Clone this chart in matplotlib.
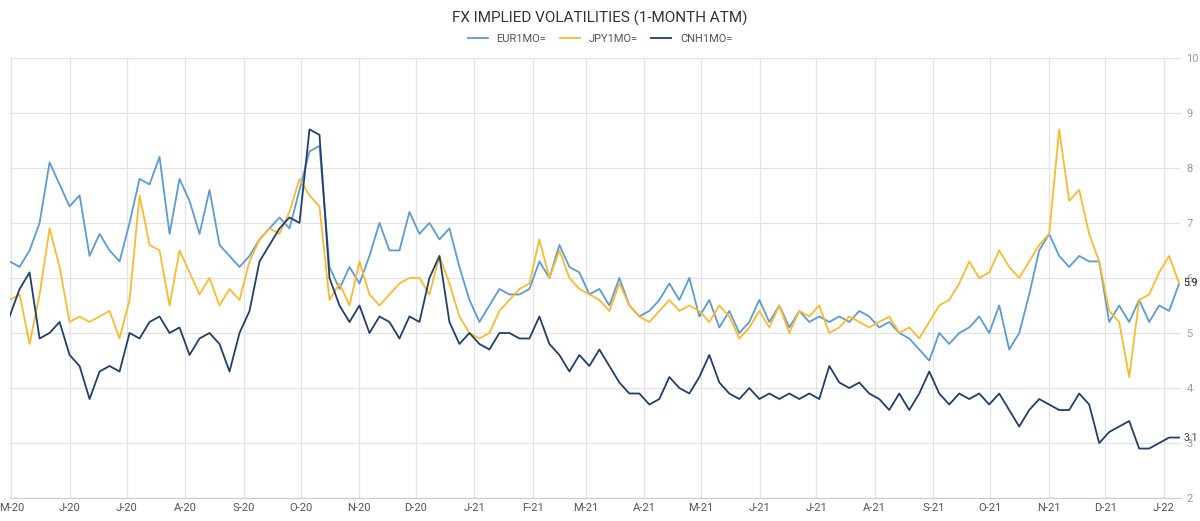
import matplotlib
matplotlib.use("Agg")
import matplotlib.pyplot as plt
import matplotlib.dates as mdates
import pandas as pd

plt.rcParams['font.family'] = ['Roboto', 'DejaVu Sans']

eur = [6.3,6.2,6.5,7.0,8.1,7.7,7.3,7.5,6.4,6.8,
       6.5,6.3,7.0,7.8,7.7,8.2,6.8,7.8,7.4,6.8,
       7.6,6.6,6.4,6.2,6.4,6.7,6.9,7.1,6.9,7.6,
       8.3,8.4,6.2,5.8,6.2,5.9,6.4,7.0,6.5,6.5,
       7.2,6.8,7.0,6.7,6.9,6.2,5.6,5.2,5.5,5.8,
       5.7,5.7,5.8,6.3,6.0,6.6,6.2,6.1,5.7,5.8,
       5.5,6.0,5.5,5.3,5.4,5.6,5.9,5.6,6.0,5.3,
       5.6,5.1,5.4,5.0,5.2,5.6,5.2,5.5,5.1,5.4,
       5.2,5.3,5.2,5.3,5.2,5.4,5.3,5.1,5.2,5.0,
       4.9,4.7,4.5,5.0,4.8,5.0,5.1,5.3,5.0,5.5,
       4.7,5.0,5.7,6.5,6.8,6.4,6.2,6.4,6.3,6.3,
       5.2,5.5,5.2,5.6,5.2,5.5,5.4,5.9]
jpy = [5.6,5.7,4.8,5.7,6.9,6.2,5.2,5.3,5.2,5.3,
       5.4,4.9,5.6,7.5,6.6,6.5,5.5,6.5,6.1,5.7,
       6.0,5.5,5.8,5.6,6.3,6.7,6.9,6.8,7.2,7.8,
       7.5,7.3,5.6,5.9,5.5,6.3,5.7,5.5,5.7,5.9,
       6.0,6.0,5.7,6.4,5.9,5.3,5.0,4.9,5.0,5.4,
       5.6,5.8,5.9,6.7,6.0,6.5,6.0,5.8,5.7,5.6,
       5.4,5.9,5.5,5.3,5.2,5.4,5.6,5.4,5.5,5.4,
       5.2,5.5,5.3,4.9,5.1,5.4,5.1,5.5,5.0,5.4,
       5.3,5.5,5.0,5.1,5.3,5.2,5.1,5.2,5.3,5.0,
       5.1,4.9,5.2,5.5,5.6,5.9,6.3,6.0,6.1,6.5,
       6.2,6.0,6.3,6.6,6.8,8.7,7.4,7.6,6.8,6.3,
       5.4,5.2,4.2,5.6,5.7,6.1,6.4,5.9]
cnh = [5.3,5.8,6.1,4.9,5.0,5.2,4.6,4.4,3.8,4.3,
       4.4,4.3,5.0,4.9,5.2,5.3,5.0,5.1,4.6,4.9,
       5.0,4.8,4.3,5.0,5.4,6.3,6.6,6.9,7.1,7.0,
       8.7,8.6,6.0,5.5,5.2,5.5,5.0,5.3,5.2,4.9,
       5.3,5.2,6.0,6.4,5.2,4.8,5.0,4.8,4.7,5.0,
       5.0,4.9,4.9,5.3,4.8,4.6,4.3,4.6,4.4,4.7,
       4.4,4.1,3.9,3.9,3.7,3.8,4.2,4.0,3.9,4.2,
       4.6,4.1,3.9,3.8,4.0,3.8,3.9,3.8,3.9,3.8,
       3.9,3.8,4.4,4.1,4.0,4.1,3.9,3.8,3.6,3.9,
       3.6,3.9,4.3,3.9,3.7,3.9,3.8,3.9,3.7,3.9,
       3.6,3.3,3.6,3.8,3.7,3.6,3.6,3.9,3.7,3.0,
       3.2,3.3,3.4,2.9,2.9,3.0,3.1,3.1]
series_names = ["EUR1MO=", "JPY1MO=", "CNH1MO="]
colors = ["#5B9BD5", "#FBBA2E", "#1F3F6E"]
y_ticks = [2, 3, 4, 5, 6, 7, 8, 9, 10]

dates = pd.date_range("2020-04-30", periods=len(eur), freq="127h")

fig = plt.figure(figsize=(12, 5.21), dpi=100)
ax = fig.add_axes([0.008, 0.044, 0.976, 0.845])
for vals, name, c in zip([eur, jpy, cnh], series_names, colors):
    ax.plot(dates, vals, color=c, lw=1.3, label=name)

ax.set_xlim(pd.Timestamp("2020-04-30"), pd.Timestamp("2022-01-10"))
ax.set_ylim(2, 10)
ax.yaxis.tick_right()
ax.set_yticks(y_ticks)
ax.set_yticklabels([str(t) for t in y_ticks])
ax.xaxis.set_major_locator(mdates.MonthLocator())
ax.xaxis.set_major_formatter(plt.FuncFormatter(
    lambda v, p: mdates.num2date(v).strftime("%b")[0] + "-" + mdates.num2date(v).strftime("%y")))
ax.tick_params(axis='both', length=0, colors="#555555", labelsize=8)
ax.tick_params(axis='y', colors="#999999", pad=4)
ax.grid(True, color="#E3E3E3", lw=0.9)
for s in ax.spines.values():
    s.set_visible(False)
ax.spines['bottom'].set_visible(True)
ax.spines['bottom'].set_color("#CCCCCC")

for vals, c in zip([eur, jpy, cnh], colors):
    ax.annotate(f"{vals[-1]:.1f}", (dates[-1], vals[-1]), xytext=(3, 0),
                textcoords="offset points", fontsize=7.5, color="#444444", va="center")

fig.text(0.5, 0.965, "FX IMPLIED VOLATILITIES (1-MONTH ATM)", ha="center", va="center",
         fontsize=11, color="#333333")
fig.legend(loc="center", bbox_to_anchor=(0.5, 0.925), ncol=3, frameon=False,
           fontsize=8, handlelength=1.8, columnspacing=1.2, labelcolor="#555555")
fig.savefig("out.png", dpi=100)
